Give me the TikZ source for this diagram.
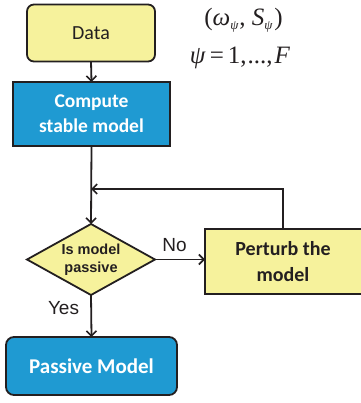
\documentclass[tikz,border=0pt]{standalone}
\usepackage{fontspec}
\setmainfont{Liberation Serif}
\newfontfamily\calib{Carlito}
\newfontfamily\arial{Liberation Sans}
\usetikzlibrary{arrows.meta,shapes.geometric}
\definecolor{boxyellow}{HTML}{F6F29C}
\definecolor{boxblue}{HTML}{1F9AD2}
\definecolor{edge}{HTML}{231F20}
\newcommand{\subpsi}{\raisebox{-4.5pt}{\fontsize{13}{13}\selectfont\itshape ψ}}
\begin{document}
\begin{tikzpicture}[x=1pt,y=-1pt,
  every node/.style={inner sep=0pt,outer sep=0pt},
  yellowbox/.style={draw=edge,line width=1.8pt,fill=boxyellow,text=edge,align=center},
  bluebox/.style={draw=edge,line width=1.8pt,fill=boxblue,text=white,align=center},
  conn/.style={draw=edge,line width=1.8pt,-{Straight Barb[length=5pt,width=10pt,line width=1.6pt]}},
  lbl/.style={font=\arial\fontsize{19}{21}\selectfont,text=edge},
  mathlbl/.style={font=\fontsize{25}{27}\selectfont,text=edge}]
\useasboundingbox (0,0) rectangle (360,403);
\node[yellowbox,rounded corners=7pt,minimum width=128pt,minimum height=57pt,font=\calib\fontsize{20}{22}\selectfont] (data) at (91,33) {Data};
\node[bluebox,minimum width=157pt,minimum height=64pt,font=\calib\bfseries\fontsize{19.5}{25}\selectfont] (comp) at (91.5,114) {Compute\\stable model};
\node[yellowbox,diamond,aspect=1.8,minimum width=128pt,minimum height=71pt,font=\arial\bfseries\fontsize{14.5}{17.5}\selectfont] (dec) at (91,259.5) {Is model\\passive};
\node[yellowbox,minimum width=158pt,minimum height=65pt,anchor=west] (pert) at (205,261.5) {};
\node[font=\calib\bfseries\fontsize{20}{26}\selectfont,text=edge,align=center] (pertlbl) at (283,261.5) {Perturb the\\model};
\node[bluebox,rounded corners=8pt,minimum width=171pt,minimum height=58pt,font=\calib\bfseries\fontsize{21}{23}\selectfont] (pass) at (91.5,366) {Passive Model};
\node[lbl] (no) at (174.5,245) {No};
\node[lbl] (yes) at (63.5,308) {Yes};
\node[mathlbl] (m1) at (243.5,20) {(\textit{ω}\subpsi\kern1pt, \textit{S}\subpsi\kern2pt)};
\node[mathlbl] (m2) at (240,58) {\textit{ψ}\kern4pt=\kern4pt1,\kern1pt...,\kern2pt\textit{F}};
\coordinate (j) at (91,189);
\coordinate (up) at (283,189);
\coordinate (ptop) at (283,229);
\draw[conn] (data.south) -- (comp.north);
\draw[conn] (comp.south) -- (dec.north);
\draw[conn] (ptop) -- (up) -- (j);
\draw[conn] (dec.east) -- (pert.west |- dec.east);
\draw[conn] (dec.south) -- (pass.north);
\end{tikzpicture}
\end{document}
